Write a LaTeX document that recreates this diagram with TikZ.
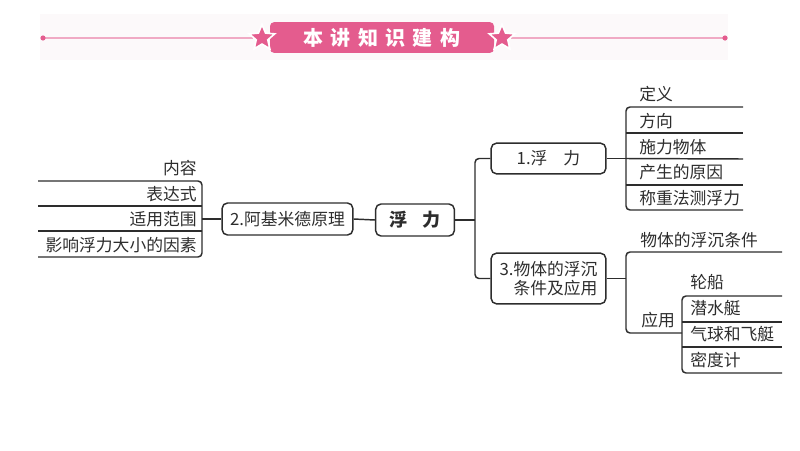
\documentclass[tikz,border=0pt]{standalone}
\usepackage{fontspec}
\setmainfont{Noto Sans CJK SC}
\usetikzlibrary{shapes.geometric}
\definecolor{rosy}{RGB}{228,92,142}
\definecolor{rosyline}{RGB}{240,170,196}
\definecolor{bandbg}{RGB}{252,249,250}
\definecolor{ink}{RGB}{45,45,45}
\tikzset{
  x=0.75pt, y=-0.75pt,
  conn/.style={draw=ink, line width=1.1pt, rounded corners=3pt},
  mbox/.style={draw=ink, line width=1.1pt, rounded corners=4pt, inner sep=0pt, font=\fontsize{12.6}{14.5}\selectfont, text=ink},
  lbl/.style={inner sep=0pt, font=\fontsize{12.6}{14.5}\selectfont, text=ink},
  starshape/.style={star, star points=5, star point ratio=2.2, fill=rosy, draw=white, line width=1.2pt, minimum size=20pt, inner sep=0pt},
}
\begin{document}
\begin{tikzpicture}
\useasboundingbox (0,0) rectangle (800,450);
% header
\fill[bandbg] (40,14) rectangle (728,60);
\coordinate (hl) at (43,38);
\coordinate (hr) at (725,38);
\node[starshape] (s1) at (262,38) {};
\node[starshape] (s2) at (502,38) {};
\draw[rosyline, line width=1.2pt] (hl) -- (s1);
\draw[rosyline, line width=1.2pt] (s2) -- (hr);
\fill[rosy] (hl) circle (2.6);
\fill[rosy] (hr) circle (2.6);
\node[fill=rosy, rounded corners=3pt, minimum width=168pt, minimum height=23pt, inner sep=0pt,
      text=white, font=\fontsize{15}{17}\selectfont\bfseries] (ban) at (382,37.5)
      {本\hspace{5.5pt}讲\hspace{5.5pt}知\hspace{5.5pt}识\hspace{5.5pt}建\hspace{5.5pt}构};
\node[starshape] at (s1) {};
\node[starshape] at (s2) {};

% central nodes
\node[mbox, minimum width=59pt, minimum height=24pt, font=\fontsize{13.5}{15}\selectfont\bfseries] (fl) at (415,220) {浮\hspace{12pt}力};
\node[mbox, minimum width=98pt, minimum height=24pt] (akm) at (287.5,219) {2.阿基米德原理};
\node[mbox, minimum width=86pt, minimum height=23pt] (b1) at (548.5,158.5) {1.浮\hspace{12pt}力};
\node[mbox, minimum width=86pt, minimum height=38pt, align=right] (b3) at (548.5,278.5) {3.物体的浮沉\\条件及应用};

\draw[conn] (fl.west) -- (akm.east);

% left bracket
\coordinate (lv) at (202,219);
\coordinate (l1) at (38,181);
\coordinate (l2) at (38,206);
\coordinate (l3) at (38,231);
\coordinate (l4) at (38,257);
\draw[conn] (akm.west) -- (lv);
\draw[conn] (l1) -- (202,181) -- (202,257) -- (l4);
\draw[conn] (l2) -- (202,206);
\draw[conn] (l3) -- (202,231);
\node[lbl, anchor=east] (t0) at (197,168) {内容};
\node[lbl, anchor=east] (t1) at (197,194) {表达式};
\node[lbl, anchor=east] (t2) at (197,219) {适用范围};
\node[lbl, anchor=east] (t3) at (197,245) {影响浮力大小的因素};

% right main split
\coordinate (rv) at (475,220);
\draw[conn] (fl.east) -- (rv);
\draw[conn] (b1.west) -- (475,158.5) -- (475,278.5) -- (b3.west);

% bracket for 1
\coordinate (r1v) at (626,158.5);
\coordinate (r1a) at (743,107);
\coordinate (r1b) at (743,133);
\coordinate (r1c) at (743,159);
\coordinate (r1d) at (743,185);
\coordinate (r1e) at (743,210);
\draw[conn] (b1.east) -- (r1v);
\draw[conn] (r1a) -- (626,107) -- (626,210) -- (r1e);
\draw[conn] (626,133) -- (r1b);
\draw[conn] (626,158.5) -- (r1c);
\draw[conn] (626,185) -- (r1d);
\node[lbl, anchor=west] (d0) at (639,94) {定义};
\node[lbl, anchor=west] (d1) at (639,121) {方向};
\node[lbl, anchor=west] (d2) at (639,147) {施力物体};
\node[lbl, anchor=west] (d3) at (639,172) {产生的原因};
\node[lbl, anchor=west] (d4) at (639,198) {称重法测浮力};

% bracket for 3
\coordinate (r3v) at (626,278.5);
\coordinate (r3a) at (782,252);
\coordinate (r3b) at (682,333);
\draw[conn] (b3.east) -- (r3v);
\draw[conn] (r3a) -- (626,252) -- (626,333) -- (r3b);
\node[lbl, anchor=west] (e0) at (640,240) {物体的浮沉条件};
\node[lbl, anchor=west] (e1) at (641,320) {应用};

% sub bracket
\coordinate (s3a) at (782,296);
\coordinate (s3b) at (782,322);
\coordinate (s3c) at (782,347);
\coordinate (s3d) at (782,373);
\draw[conn] (s3a) -- (682,296) -- (682,373) -- (s3d);
\draw[conn] (682,322) -- (s3b);
\draw[conn] (682,347) -- (s3c);
\node[lbl, anchor=west] (f0) at (690,282) {轮船};
\node[lbl, anchor=west] (f1) at (690,308) {潜水艇};
\node[lbl, anchor=west] (f2) at (690,334) {气球和飞艇};
\node[lbl, anchor=west] (f3) at (690,360) {密度计};
\end{tikzpicture}
\end{document}
